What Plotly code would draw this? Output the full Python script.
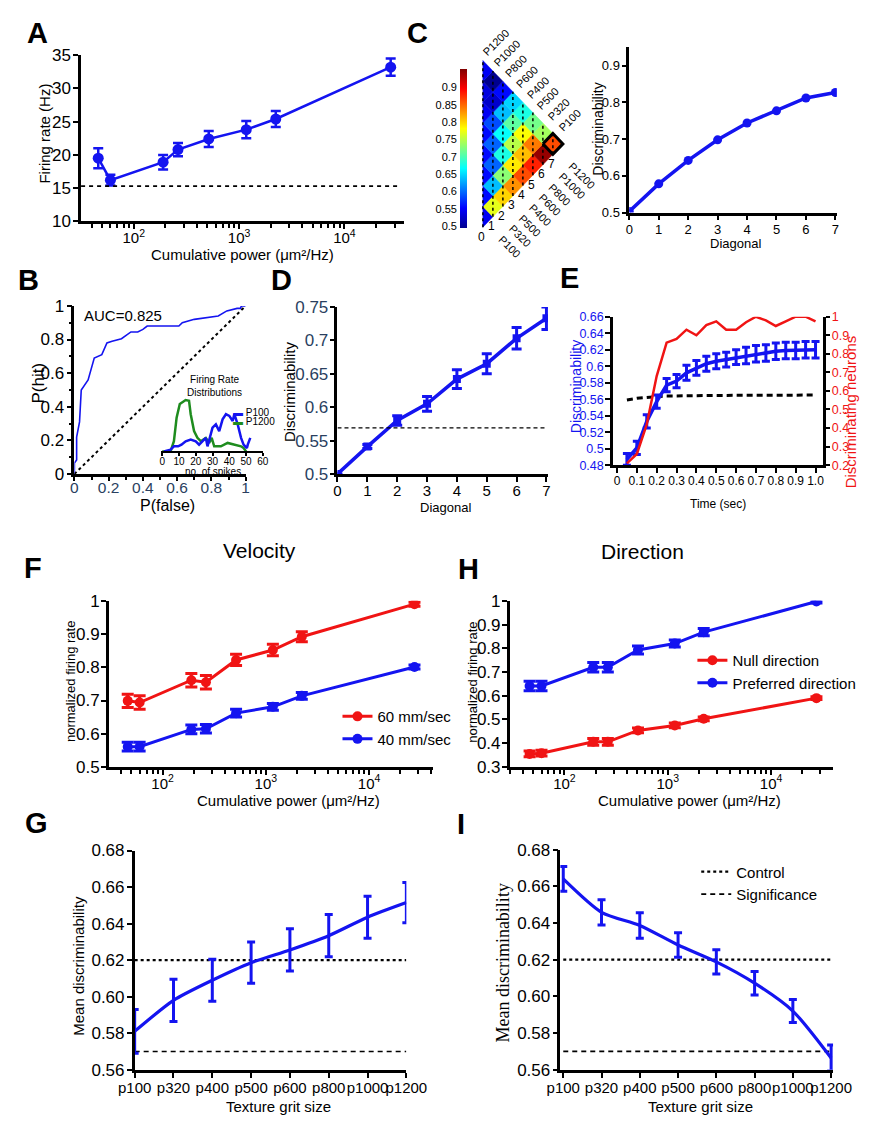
import plotly.graph_objects as go
from plotly.colors import sample_colorscale

W, H = 877, 1124
SANS = "Liberation Sans, Arial, Helvetica, sans-serif"
NARROW = "Liberation Sans Narrow, Liberation Sans, Arial, sans-serif"
SERIF = "Liberation Serif, Times New Roman, serif"
BLUE = "#1414f0"
RED = "#f01414"
GREEN = "#1e8c1e"

# ---------------- data ----------------
# A / F / H : cumulative power of the textures
power = [46, 60, 190, 263, 515, 1170, 2230, 27500]
rate_A = [19.5, 16.2, 18.9, 20.8, 22.4, 23.8, 25.4, 33.2]
rate_A_err = [1.5, 0.8, 1.1, 1.0, 1.2, 1.3, 1.2, 1.3]
baseline_A = 15.3

# B : ROC curve and inset spike-count distributions
roc_pfalse = [0, 0, 0.013, 0.013, 0.03, 0.04, 0.08, 0.116, 0.16, 0.19, 0.22, 0.275, 0.33,
              0.37, 0.40, 0.425, 0.61, 0.63, 0.70, 0.84, 0.89, 0.95, 0.97, 0.975, 1.0]
roc_phit = [0, 0.065, 0.084, 0.22, 0.31, 0.50, 0.56, 0.69, 0.71, 0.78, 0.79, 0.805, 0.845,
            0.845, 0.86, 0.88, 0.88, 0.90, 0.92, 0.94, 0.97, 0.985, 0.985, 1.0, 1.0]
chance_line = [0, 1]
auc_text = "AUC=0.825"
spikes_p1200 = [0, 5, 7, 8.6, 10.5, 12, 14, 16, 17, 19, 21, 23, 26, 28, 29.5, 31, 35, 39, 43, 47, 48.5, 50]
count_p1200 = [0, 0, 3, 10, 14, 14.5, 15.2, 15, 11, 6, 4, 3, 4, 2.5, 4, 1.5, 1.5, 2.5, 2, 1.5, 1, 0]
spikes_p100 = [1, 5, 7, 9.5, 11.5, 14, 17, 20, 22, 24, 26, 27, 28.5, 30, 32, 34, 36, 38, 40, 42,
               43, 45, 47, 48.5, 50.5, 51, 52.5]
count_p100 = [0, 0.5, 1.5, 1.5, 2, 3, 3.5, 3, 2, 3, 4, 1.5, 4, 7, 8, 6, 9.5, 11, 10.5, 9,
              11, 8, 4, 2, 1, 2, 4]

# C : pairwise discriminability matrix (lower triangle, rows/cols in texture order)
textures = ["P100", "P320", "P500", "P400", "P600", "P800", "P1000", "P1200"]
disc_matrix = [
    [0.55],
    [0.77, 0.56],
    [0.80, 0.64, 0.56],
    [0.83, 0.73, 0.60, 0.56],
    [0.86, 0.79, 0.68, 0.60, 0.56],
    [0.88, 0.81, 0.75, 0.67, 0.59, 0.55],
    [0.94, 0.84, 0.78, 0.71, 0.64, 0.53, 0.54],
    [0.86, 0.74, 0.72, 0.68, 0.65, 0.56, 0.50, 0.55],
]
diagonal = [0, 1, 2, 3, 4, 5, 6, 7]
diag_disc_C = [0.503, 0.578, 0.642, 0.698, 0.744, 0.777, 0.812, 0.827]

# D
diag_disc_D = [0.500, 0.541, 0.580, 0.605, 0.642, 0.665, 0.703, 0.733]
diag_err_D = [0.0, 0.003, 0.007, 0.011, 0.014, 0.015, 0.016, 0.017]
signif_D = 0.569

# E
time_s = [0.05, 0.1, 0.15, 0.2, 0.25, 0.3, 0.35, 0.4, 0.45, 0.5,
          0.55, 0.6, 0.65, 0.7, 0.75, 0.8, 0.85, 0.9, 0.95, 1.0]
disc_E = [0.487, 0.501, 0.533, 0.557, 0.577, 0.582, 0.592, 0.598, 0.603, 0.606,
          0.608, 0.611, 0.613, 0.615, 0.616, 0.618, 0.619, 0.619, 0.620, 0.620]
disc_E_err = [0.007, 0.008, 0.008, 0.008, 0.008, 0.008, 0.009, 0.009, 0.009, 0.009,
              0.009, 0.009, 0.010, 0.010, 0.010, 0.010, 0.010, 0.010, 0.010, 0.010]
frac_neurons_E = [0.21, 0.26, 0.42, 0.68, 0.86, 0.88, 0.93, 0.90, 0.955, 0.975,
                  0.93, 0.93, 0.97, 1.0, 0.98, 0.95, 0.975, 1.0, 1.0, 0.975]
chance_E = [0.559, 0.561, 0.562, 0.563, 0.564, 0.564, 0.5643, 0.5645, 0.5645, 0.5646,
            0.5646, 0.5647, 0.5647, 0.5648, 0.5648, 0.5648, 0.5649, 0.5649, 0.565, 0.565]

# F (velocity)
vel60 = [0.699, 0.694, 0.761, 0.755, 0.822, 0.852, 0.892, 0.990]
vel60_err = [0.02, 0.02, 0.02, 0.02, 0.017, 0.017, 0.015, 0.006]
vel40 = [0.561, 0.561, 0.613, 0.615, 0.662, 0.681, 0.714, 0.801]
vel40_err = [0.013, 0.013, 0.013, 0.013, 0.012, 0.010, 0.010, 0.006]

# H (direction)
dir_pref = [0.641, 0.641, 0.720, 0.720, 0.793, 0.820, 0.868, 0.997]
dir_pref_err = [0.02, 0.02, 0.02, 0.02, 0.017, 0.015, 0.015, 0.006]
dir_null = [0.355, 0.358, 0.406, 0.406, 0.454, 0.475, 0.503, 0.590]
dir_null_err = [0.012, 0.012, 0.014, 0.014, 0.010, 0.010, 0.008, 0.006]

# G / I
grits = ["p100", "p320", "p400", "p500", "p600", "p800", "p1000", "p1200"]
disc_G = [0.581, 0.598, 0.609, 0.6186, 0.6256, 0.6334, 0.6435, 0.6515]
disc_G_err = [0.012, 0.0116, 0.0115, 0.0113, 0.0116, 0.0116, 0.0115, 0.011]
disc_I = [0.664, 0.6458, 0.6386, 0.628, 0.6188, 0.6072, 0.592, 0.5664]
disc_I_err = [0.0067, 0.0069, 0.0069, 0.0067, 0.0066, 0.0064, 0.0063, 0.0071]
control_level = 0.62
signif_level = 0.57

JET = [[0.0, "rgb(0,0,143)"], [0.125, "rgb(0,0,255)"], [0.375, "rgb(0,255,255)"],
       [0.625, "rgb(255,255,0)"], [0.875, "rgb(255,0,0)"], [1.0, "rgb(128,0,0)"]]
CMIN, CMAX = 0.5, 0.95


# ---------------- helpers ----------------
def dx(a, b):
    return [a / W, b / W]


def dy(top, bottom):
    return [1 - bottom / H, 1 - top / H]


AX = dict(showline=True, linecolor="black", linewidth=2.5, ticks="outside", ticklen=5,
          tickwidth=2, tickcolor="black", showgrid=False, zeroline=False, mirror=False)


def ax(**kw):
    d = dict(AX)
    d.update(kw)
    return d


def eb(arr, color, thick=2.5, width=5):
    return dict(type="data", array=arr, color=color, thickness=thick, width=width, visible=True)


fig = go.Figure()
annotations = []
shapes = []


def ann(text, x, y, size, family=SANS, color="black", angle=0, xanchor="center",
        yanchor="middle", weight="normal"):
    annotations.append(dict(text=text, x=x / W, y=1 - y / H, xref="paper", yref="paper",
                            showarrow=False, textangle=angle, xanchor=xanchor, yanchor=yanchor,
                            font=dict(size=size, family=family, color=color, weight=weight)))


# ---------------- A ----------------
fig.add_trace(go.Scatter(x=power, y=rate_A, mode="lines+markers", xaxis="x", yaxis="y",
                         line=dict(color=BLUE, width=2.5), marker=dict(size=11, color=BLUE),
                         error_y=eb(rate_A_err, BLUE, 2.5, 5), showlegend=False))
shapes.append(dict(type="line", xref="x domain", yref="y", x0=0, x1=0.985,
                   y0=baseline_A, y1=baseline_A, line=dict(color="black", width=1.6, dash="4px,4px")))

minor_log = [m * 10 ** e for e in (1, 2, 3, 4) for m in range(2, 10)]

# ---------------- B ----------------
fig.add_trace(go.Scatter(x=roc_pfalse, y=roc_phit, mode="lines", xaxis="x2", yaxis="y2",
                         line=dict(color=BLUE, width=1.6), showlegend=False))
fig.add_trace(go.Scatter(x=chance_line, y=chance_line, mode="lines", xaxis="x2", yaxis="y2",
                         line=dict(color="black", width=2, dash="dot"), showlegend=False))
fig.add_trace(go.Scatter(x=spikes_p1200, y=count_p1200, mode="lines", xaxis="x3", yaxis="y3",
                         line=dict(color=GREEN, width=2.5), showlegend=False))
fig.add_trace(go.Scatter(x=spikes_p100, y=count_p100, mode="lines", xaxis="x3", yaxis="y3",
                         line=dict(color=BLUE, width=2.5), showlegend=False))

# ---------------- C heat triangle ----------------
cell_x, cell_y, cell_v = [], [], []
for r, row in enumerate(disc_matrix):
    for c, v in enumerate(row):
        d = r - c
        yc = r + c
        col = sample_colorscale(JET, [(v - CMIN) / (CMAX - CMIN)])[0]
        if d == 0:
            px = [d, d + 1, d, d]
            py = [yc - 1, yc, yc + 1, yc - 1]
        else:
            px = [d - 1, d, d + 1, d, d - 1]
            py = [yc, yc - 1, yc, yc + 1, yc]
        fig.add_trace(go.Scatter(x=px, y=py, mode="lines", fill="toself", fillcolor=col,
                                 line=dict(width=0.5, color=col), xaxis="x4", yaxis="y4",
                                 showlegend=False, hoverinfo="skip"))
        cell_x.append(d)
        cell_y.append(yc)
        cell_v.append(v)

# dotted column lines
lx, ly = [], []
for d in diagonal:
    lx += [d, d, None]
    ly += [d - 1, 15 - d, None]
fig.add_trace(go.Scatter(x=lx, y=ly, mode="lines", xaxis="x4", yaxis="y4",
                         line=dict(color="black", width=1.5, dash="dot"), showlegend=False,
                         hoverinfo="skip"))
# highlight the P100 vs P1200 cell
hi_r, hi_c = 7, 0
hd, hy = hi_r - hi_c, hi_r + hi_c
fig.add_trace(go.Scatter(x=[hd - 1, hd, hd + 1, hd, hd - 1], y=[hy, hy - 1, hy, hy + 1, hy],
                         mode="lines", xaxis="x4", yaxis="y4",
                         line=dict(color="black", width=3), showlegend=False, hoverinfo="skip"))
# colour scale carrier
fig.add_trace(go.Scatter(x=cell_x, y=cell_y, mode="markers", xaxis="x4", yaxis="y4",
                         marker=dict(size=1, opacity=0, color=cell_v, cmin=CMIN, cmax=CMAX,
                                     colorscale=JET, showscale=True,
                                     colorbar=dict(thickness=7, thicknessmode="pixels", len=159,
                                                   lenmode="pixels", x=463 / W, xanchor="left",
                                                   xpad=0, y=1 - 141.5 / H, yanchor="middle",
                                                   ypad=0, outlinewidth=0, showticklabels=False,
                                                   ticks="")),
                         showlegend=False, hoverinfo="skip"))
fig.add_trace(go.Scatter(x=[None], y=[None], xaxis="x5", yaxis="y5", showlegend=False))

heat_ann = []
for k in diagonal:
    heat_ann.append(dict(text=str(k), x=k - 0.15, y=k - 1.9, xref="x4", yref="y4", showarrow=False,
                         font=dict(size=12, family=NARROW, color="black")))
for k, lbl in enumerate(textures[::-1]):
    heat_ann.append(dict(text=lbl, x=0.3 + 1.085 * k - 0.8, y=15.0 - 1.04 * k, xref="x4", yref="y4",
                         showarrow=False, textangle=-45, xanchor="left", yanchor="bottom",
                         font=dict(size=11, family=NARROW, color="black")))
for k, lbl in enumerate(textures):
    heat_ann.append(dict(text=lbl, x=k + 1.1, y=k - 1.3, xref="x4", yref="y4",
                         showarrow=False, textangle=45, xanchor="left", yanchor="top",
                         font=dict(size=11, family=NARROW, color="black")))
annotations += heat_ann

# C line chart
fig.add_trace(go.Scatter(x=diagonal, y=diag_disc_C, mode="lines+markers", xaxis="x6", yaxis="y6",
                         line=dict(color=BLUE, width=3.5), marker=dict(size=9, color=BLUE),
                         showlegend=False))

# ---------------- D ----------------
fig.add_trace(go.Scatter(x=diagonal, y=diag_disc_D, mode="lines+markers", xaxis="x7", yaxis="y7",
                         line=dict(color=BLUE, width=3.5), marker=dict(size=8, color=BLUE, symbol="square"),
                         error_y=eb(diag_err_D, BLUE, 3, 5), showlegend=False))
shapes.append(dict(type="line", xref="x7", yref="y7", x0=diagonal[0], x1=diagonal[-1],
                   y0=signif_D, y1=signif_D, line=dict(color="black", width=1.3, dash="4px,3px")))

# ---------------- E ----------------
fig.add_trace(go.Scatter(x=time_s, y=chance_E, mode="lines", xaxis="x8", yaxis="y8",
                         line=dict(color="black", width=3, dash="6px,4px"), showlegend=False))
fig.add_trace(go.Scatter(x=time_s, y=frac_neurons_E, mode="lines", xaxis="x8", yaxis="y9",
                         line=dict(color=RED, width=2.5), showlegend=False))
fig.add_trace(go.Scatter(x=time_s, y=disc_E, mode="lines", xaxis="x8", yaxis="y8",
                         line=dict(color=BLUE, width=3.5), error_y=eb(disc_E_err, BLUE, 3, 4),
                         showlegend=False))

# ---------------- F ----------------
fig.add_trace(go.Scatter(x=power, y=vel60, name="60 mm/sec", mode="lines+markers", xaxis="x10",
                         yaxis="y10", line=dict(color=RED, width=3), marker=dict(size=10, color=RED),
                         error_y=eb(vel60_err, RED, 3, 6), legend="legend"))
fig.add_trace(go.Scatter(x=power, y=vel40, name="40 mm/sec", mode="lines+markers", xaxis="x10",
                         yaxis="y10", line=dict(color=BLUE, width=3), marker=dict(size=10, color=BLUE),
                         error_y=eb(vel40_err, BLUE, 3, 6), legend="legend"))

# ---------------- H ----------------
fig.add_trace(go.Scatter(x=power, y=dir_null, name="Null direction", mode="lines+markers",
                         xaxis="x11", yaxis="y11", line=dict(color=RED, width=3),
                         marker=dict(size=10, color=RED), error_y=eb(dir_null_err, RED, 3, 6),
                         legend="legend2"))
fig.add_trace(go.Scatter(x=power, y=dir_pref, name="Preferred direction", mode="lines+markers",
                         xaxis="x11", yaxis="y11", line=dict(color=BLUE, width=3),
                         marker=dict(size=10, color=BLUE), error_y=eb(dir_pref_err, BLUE, 3, 6),
                         legend="legend2"))

# ---------------- G ----------------
fig.add_trace(go.Scatter(x=[grits[0], grits[-1]], y=[control_level] * 2, mode="lines", xaxis="x12",
                         yaxis="y12", line=dict(color="black", width=2.2, dash="dot"), showlegend=False))
fig.add_trace(go.Scatter(x=[grits[0], grits[-1]], y=[signif_level] * 2, mode="lines", xaxis="x12",
                         yaxis="y12", line=dict(color="black", width=1.6, dash="5px,4px"), showlegend=False))
fig.add_trace(go.Scatter(x=grits, y=disc_G, mode="lines", xaxis="x12", yaxis="y12",
                         line=dict(color=BLUE, width=3.2, shape="spline", smoothing=0.7),
                         error_y=eb(disc_G_err, BLUE, 3, 4), showlegend=False))

# ---------------- I ----------------
fig.add_trace(go.Scatter(x=[grits[0], grits[-1]], y=[control_level] * 2, mode="lines", name="Control",
                         xaxis="x13", yaxis="y13", line=dict(color="black", width=2.2, dash="dot"),
                         legend="legend3"))
fig.add_trace(go.Scatter(x=[grits[0], grits[-1]], y=[signif_level] * 2, mode="lines",
                         name="Significance", xaxis="x13", yaxis="y13",
                         line=dict(color="black", width=1.8, dash="5px,4px"), legend="legend3"))
fig.add_trace(go.Scatter(x=grits, y=disc_I, mode="lines", xaxis="x13", yaxis="y13",
                         line=dict(color=BLUE, width=3.2, shape="spline", smoothing=0.7),
                         error_y=eb(disc_I_err, BLUE, 3, 4), showlegend=False))

# ---------------- text ----------------
L = 29
for t, x, y in [("A", 21, 24), ("C", 419, 24), ("B", 12, 276), ("D", 276, 276), ("E", 578, 274),
                ("F", 17, 569), ("H", 472, 570), ("G", 20, 828), ("I", 464, 829)]:
    ann(t, x, y, L, weight="bold")
ann("Velocity", 254, 551, 21)
ann("Direction", 654, 552, 21)

ann("Firing rate (Hz)", 29, 127, 15, angle=-90)
ann("Cumulative power (μm²/Hz)", 236, 250, 15)
ann("P(hit)", 23, 381, 17, angle=-90)
ann("P(false)", 157, 505, 16)
ann(auc_text, 111, 312, 15)
ann("Firing Rate<br>Distributions", 206, 383, 10)
ann('<span style="color:%s">▬</span> P100' % BLUE, 224, 410, 10, xanchor="left")
ann('<span style="color:%s">▬</span> P1200' % GREEN, 224, 420, 10, xanchor="left")
ann("no. of spikes", 205, 470, 10)
ann("Discriminability", 607, 122, 14, family=NARROW, angle=-90)
ann("Diagonal", 751, 239, 13, family=NARROW)
ann("Discriminability", 285, 389, 15, family=NARROW, angle=-90)
ann("Diagonal", 448, 507, 13, family=NARROW)
ann("Discriminability", 584, 384, 14, family=NARROW, color=BLUE, angle=-90)
ann("Discriminating neurons", 871, 410, 15, family=NARROW, color=RED, angle=-90)
ann("Time (sec)", 733, 504, 12, family=NARROW)
ann("normalized firing rate", 56, 684, 13, angle=-90)
ann("Cumulative power (μm²/Hz)", 284, 805, 15)
ann("normalized firing rate", 476, 685, 13, angle=-90)
ann("Cumulative power (μm²/Hz)", 703, 805, 15)
ann("Mean discriminability", 64, 973, 15, angle=-90)
ann("Texture grit size", 273, 1116, 15)
ann("Mean discriminability", 508, 970, 18, family=SERIF, angle=-90)
ann("Texture grit size", 714, 1116, 15)

# ---------------- axes ----------------
TF = dict(family=SANS, size=17, color="black")
TFN = dict(family=NARROW, size=13, color="black")
pow_ticks = dict(tickmode="array", tickvals=[100, 1000, 10000],
                 ticktext=["10<sup>2</sup>", "10<sup>3</sup>", "10<sup>4</sup>"],
                 minor=dict(tickmode="array", tickvals=minor_log, ticks="outside", ticklen=4,
                            tickwidth=1.5, tickcolor="black"))
PT = dict(family=SANS, size=15, color="black")

layout = dict(
    width=W, height=H, margin=dict(l=0, r=0, t=0, b=0), paper_bgcolor="white",
    plot_bgcolor="rgba(0,0,0,0)", showlegend=True,
    # A
    xaxis=ax(domain=dx(67, 405), anchor="y", type="log", range=[1.5, 4.57], tickfont=PT,
             ticklabelstandoff=-4, **pow_ticks),
    yaxis=ax(domain=dy(47, 216), anchor="x", range=[10, 35], tickvals=[10, 15, 20, 25, 30, 35],
             tickfont=TF, ticklabelstandoff=-1),
    # B
    xaxis2=ax(domain=dx(60, 239), anchor="y2", range=[0, 1.0], tickvals=[0, 0.2, 0.4, 0.6, 0.8, 1],
              ticktext=["0", "0.2", "0.4", "0.6", "0.8", "1"], tickfont=dict(family=SANS, size=15.5),
              ticklabelstandoff=-6, ticklen=4,
              minor=dict(dtick=0.1, ticks="outside", ticklen=3, tickwidth=1.5)),
    yaxis2=ax(domain=dy(302, 473), anchor="x2", range=[0, 1.0], tickvals=[0, 0.2, 0.4, 0.6, 0.8, 1],
              ticktext=["0", "0.2", "0.4", "0.6", "0.8", "1"], tickfont=TF, ticklabelstandoff=-1,
              minor=dict(dtick=0.1, ticks="outside", ticklen=3, tickwidth=1.5)),
    xaxis3=ax(domain=dx(150, 257), anchor="y3", range=[-1, 60], tickvals=[0, 10, 20, 30, 40, 50, 60],
              tickfont=dict(family=SANS, size=10, color="black"), ticklen=3, tickwidth=1.5, linewidth=2,
              ticklabelstandoff=-3),
    yaxis3=dict(domain=dy(395, 450), anchor="x3", range=[0, 16], visible=False),
    # C heat
    xaxis4=dict(domain=dx(466.1, 612.4), anchor="y4", range=[-2, 12], visible=False),
    yaxis4=dict(domain=dy(31.2, 285.6), anchor="x4", range=[-7, 17], visible=False),
    xaxis5=dict(domain=dx(463, 470), anchor="y5", range=[0, 1], visible=False),
    yaxis5=dict(domain=dy(62, 221), anchor="x5", range=[CMIN, CMAX], showline=False, ticks="",
                showgrid=False, zeroline=False,
                tickvals=[0.5, 0.55, 0.6, 0.65, 0.7, 0.75, 0.8, 0.85, 0.9],
                ticktext=["0.5", "0.55", "0.6", "0.65", "0.7", "0.75", "0.8", "0.85", "0.9"],
                tickfont=dict(family=NARROW, size=11, color="black"), ticklabelstandoff=2),
    # C line
    xaxis6=ax(domain=dx(640, 857), anchor="y6", range=[0, 7.05], tickvals=diagonal, tickfont=TFN,
              ticklabelstandoff=-2),
    yaxis6=ax(domain=dy(39, 207), anchor="x6", range=[0.5, 0.95], tickvals=[0.5, 0.6, 0.7, 0.8, 0.9],
              ticktext=["0.5", "0.6", "0.7", "0.8", "0.9"], tickfont=TFN, ticklabelstandoff=-1),
    # D
    xaxis7=ax(domain=dx(335, 555), anchor="y7", range=[0, 7.05], tickvals=diagonal,
              tickfont=dict(family=NARROW, size=15, color="black"), ticklabelstandoff=-4),
    yaxis7=ax(domain=dy(303, 473), anchor="x7", range=[0.5, 0.75],
              tickvals=[0.5, 0.55, 0.6, 0.65, 0.7, 0.75], ticklabelstandoff=-2,
              ticktext=["0.5", "0.55", "0.6", "0.65", "0.7", "0.75"], tickfont=dict(family=SANS, size=17)),
    # E
    xaxis8=ax(domain=dx(623, 843), anchor="y8", range=[-0.02, 1.04],
              tickvals=[0, 0.1, 0.2, 0.3, 0.4, 0.5, 0.6, 0.7, 0.8, 0.9, 1.0],
              ticktext=["0", "0.1", "0.2", "0.3", "0.4", "0.5", "0.6", "0.7", "0.8", "0.9", "1.0"],
              tickfont=dict(family=NARROW, size=12, color="black"), ticklabelstandoff=-2),
    yaxis8=ax(domain=dy(313, 464), anchor="x8", range=[0.48, 0.66], ticklabelstandoff=-1,
              tickvals=[0.48, 0.5, 0.52, 0.54, 0.56, 0.58, 0.6, 0.62, 0.64, 0.66],
              ticktext=["0.48", "0.5", "0.52", "0.54", "0.56", "0.58", "0.6", "0.62", "0.64", "0.66"],
              tickfont=dict(family=NARROW, size=12.5, color=BLUE)),
    yaxis9=ax(domain=dy(313, 464), anchor="x8", overlaying="y8", side="right", range=[0.2, 1.0],
              tickvals=[0.2, 0.3, 0.4, 0.5, 0.6, 0.7, 0.8, 0.9, 1.0], ticklen=4, ticklabelstandoff=-1,
              ticktext=["0.2", "0.3", "0.4", "0.5", "0.6", "0.7", "0.8", "0.9", "1"],
              tickfont=dict(family=NARROW, size=12.5, color=RED)),
    # F
    xaxis10=ax(domain=dx(96, 435), anchor="y10", type="log", range=[1.48, 4.62], tickfont=PT,
               ticklabelstandoff=-4, **pow_ticks),
    yaxis10=ax(domain=dy(602, 771), anchor="x10", range=[0.5, 1.0], tickvals=[0.5, 0.6, 0.7, 0.8, 0.9, 1],
               ticktext=["0.5", "0.6", "0.7", "0.8", "0.9", "1"], tickfont=TF, ticklabelstandoff=-2),
    # H
    xaxis11=ax(domain=dx(515, 853), anchor="y11", type="log", range=[1.47, 4.60], tickfont=PT,
               ticklabelstandoff=-4, **pow_ticks),
    yaxis11=ax(domain=dy(602, 771), anchor="x11", range=[0.3, 1.0], ticklabelstandoff=-2,
               tickvals=[0.3, 0.4, 0.5, 0.6, 0.7, 0.8, 0.9, 1],
               ticktext=["0.3", "0.4", "0.5", "0.6", "0.7", "0.8", "0.9", "1"], tickfont=TF),
    # G
    xaxis12=ax(domain=dx(123, 407), anchor="y12", type="category", range=[0, 7],
               categoryorder="array", categoryarray=grits, tickangle=0, ticklabelstandoff=-3,
               tickfont=dict(family=SANS, size=15, color="black")),
    yaxis12=ax(domain=dy(856, 1079), anchor="x12", range=[0.56, 0.68], ticklabelstandoff=-1,
               tickvals=[0.56, 0.58, 0.6, 0.62, 0.64, 0.66, 0.68],
               ticktext=["0.56", "0.58", "0.60", "0.62", "0.64", "0.66", "0.68"], tickfont=TF),
    # I
    xaxis13=ax(domain=dx(568, 853), anchor="y13", type="category", range=[-0.075, 7.05],
               categoryorder="array", categoryarray=grits, tickangle=0, ticklabelstandoff=-3,
               tickfont=dict(family=SANS, size=15, color="black")),
    yaxis13=ax(domain=dy(855, 1079), anchor="x13", range=[0.56, 0.68], ticklabelstandoff=-1,
               tickvals=[0.56, 0.58, 0.6, 0.62, 0.64, 0.66, 0.68],
               ticktext=["0.56", "0.58", "0.60", "0.62", "0.64", "0.66", "0.68"], tickfont=TF),
    legend=dict(x=335 / W, y=1 - 703 / H, xanchor="left", yanchor="top", bgcolor="rgba(0,0,0,0)",
                font=dict(family=SANS, size=15, color="black"), tracegroupgap=0, itemwidth=30),
    legend2=dict(x=706 / W, y=1 - 646 / H, xanchor="left", yanchor="top", bgcolor="rgba(0,0,0,0)",
                 font=dict(family=SANS, size=15, color="black"), tracegroupgap=0, itemwidth=30),
    legend3=dict(x=710 / W, y=1 - 861 / H, xanchor="left", yanchor="top", bgcolor="rgba(0,0,0,0)",
                 font=dict(family=SANS, size=15, color="black"), tracegroupgap=0, itemwidth=30),
    annotations=annotations,
    shapes=shapes,
)
fig.update_layout(**layout)
fig.write_html("out.html", config={"displayModeBar": False},
               post_script="document.body.style.margin='0';document.body.style.overflow='hidden';")
